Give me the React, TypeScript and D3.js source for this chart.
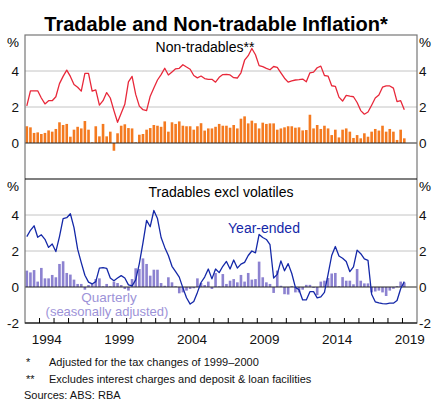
import React from "react";
import * as d3 from "d3";

// quarterly data, 1993Q1 .. 2019Q1
const startYear = 1993;

const nonTradYearEnded = [
  2.06, 2.9, 2.9, 2.9, 2.5, 2.17, 2.35, 2.35, 2.57, 3.3,
  3.7, 4.05, 3.7, 3.25, 3.1, 2.88, 3.87, 3.87, 2.88, 2.95,
  2.1, 2.35, 2.8, 2.5, 1.8, 1.15, 1.65, 2.15, 3.4, 3.7,
  2.7, 2.05, 1.85, 1.8, 2.6, 3.05, 3.5, 3.8, 4.15, 3.78,
  3.95, 4.12, 4.15, 4.35, 4.22, 4.1, 3.75, 3.62, 3.72, 3.58,
  3.54, 3.54, 3.38, 3.65, 3.8, 3.81, 3.78, 3.63, 3.61, 3.9,
  4.6, 4.85, 5.25, 4.9, 4.3, 4.24, 4.15, 4.07, 4.25, 4.2,
  3.9, 3.6, 3.38, 3.45, 3.5, 3.52, 3.55, 3.4, 3.9, 3.94,
  4.18, 4.27, 3.75, 3.72, 3.18, 3.15, 2.55, 2.33, 2.65, 2.6,
  2.57, 2.25, 1.8, 1.6, 1.72, 2.1, 2.5, 2.67, 3.1, 3.17,
  3.17, 3.05, 2.3, 2.35, 1.85,
];

const nonTradQuarterly = [
  0.93, 0.87, 0.56, 0.59, 0.5, 0.56, 0.7, 0.63, 0.78, 1.15,
  1.0, 1.06, 0.35, 0.74, 0.9, 0.81, 1.22, 0.74, 0.04, 0.93,
  0.37, 1.06, 0.37, 0.63, -0.43, 0.54, 0.96, 1.04, 0.83, 0.81,
  0.04, 0.46, 0.5, 0.74, 0.83, 1.0, 0.96, 0.9, 1.2, 0.63,
  1.15, 1.06, 1.2, 0.96, 0.93, 0.93, 0.74, 0.93, 1.1, 0.69,
  0.81, 0.81, 0.9, 1.06, 0.96, 0.96, 0.85, 1.0, 0.81, 1.35,
  1.48, 1.09, 1.24, 1.1, 0.81, 1.13, 1.06, 1.09, 1.09, 0.74,
  0.81, 0.87, 0.93, 0.93, 0.85, 0.87, 0.7, 0.72, 1.57, 0.81,
  1.0, 0.78, 0.96, 0.81, 0.44, 0.74, 0.31, 0.74, 0.81, 0.63,
  0.28, 0.44, 0.26, 0.54, 0.35, 0.63, 0.78, 0.69, 0.96, 0.63,
  0.78, 0.63, 0.17, 0.74, 0.26,
];

const tradYearEnded = [
  2.8, 3.15, 3.4, 2.76, 2.9, 2.65, 2.2, 2.39, 1.97, 2.8,
  3.8, 3.85, 4.07, 3.3, 2.1, 1.35, 0.65, 0.27, 0.17, 0.3,
  1.05, 1.08, 1.04, 0.5, 0.35, 0.5, 0.63, 0.5, 0.12, 0.06,
  0.4, 1.3, 2.45, 3.7, 3.35, 4.25, 3.8, 2.75, 2.2, 1.75,
  1.15, 0.85, 0.55, -0.05, -0.6, -0.95, -0.8, -0.3, 0.25, 0.55,
  1.0, 0.45, 1.0, 0.8, 1.15, 1.42, 1.0, 1.5, 1.05, 1.27,
  1.37, 1.75, 2.0, 1.9, 2.92, 2.75, 2.64, 2.35, 0.5, 0.7,
  1.45, 0.9, 1.3, 0.75, -0.02, -0.15, -0.72, -0.72, -0.26, -0.26,
  -0.6, -0.55, -0.3, 0.7, 1.75, 2.25, 1.72, 1.6, 1.42, 0.85,
  1.12, 2.05, 1.85, 1.56, 1.48, -0.4, -0.82, -0.88, -0.92, -0.94,
  -0.9, -0.9, -0.75, -0.1, 0.3,
];

const tradQuarterly = [
  0.91, 0.81, 0.94, 0.3, 1.06, 0.48, 0.48, 0.67, 0.54, 1.28,
  1.43, 0.78, 0.69, 0.41, 0.17, 0.17, -0.15, 0.11, 0.17, 0.44,
  0.48, 0.04, 0.17, 0.04, 0.3, 0.22, 0.11, -0.11, -0.2, 0.44,
  1.04, 1.0, 1.59, 1.28, 0.63, 0.96, 0.96, 0.22, 0.07, 0.54,
  0.26, 0.04, -0.35, -0.3, -0.2, -0.11, -0.07, 0.48, 0.22, 0.11,
  0.3, -0.11, 0.78, 0.04, 0.72, 0.17, 0.35, 0.44, 0.26, 0.67,
  0.3, 0.78, 0.41, 0.44, 1.41, 0.54, 0.26, 0.17, -0.33, 0.91,
  0.07, -0.4, -0.42, 0.05, -0.3, -0.3, -0.15, 0.12, 0.12, -0.05,
  -0.45, 0.3, 0.35, 0.5, 0.75, 0.78, 0.05, 0.55, 0.35, 0.35,
  0.15, 1.0, 0.35, 0.2, 0.2, -0.3, -0.25, -0.2, -0.3, -0.5,
  -0.2, -0.1, 0.05, 0.3, 0.25,
];

const yearLabels = [1994, 1999, 2004, 2009, 2014, 2019];
const yTicks = [-2, 0, 2, 4];
const footnotes = [
  { mark: "*", text: "Adjusted for the tax changes of 1999\u20132000" },
  { mark: "**", text: "Excludes interest charges and deposit & loan facilities" },
];

const font = "Arial, 'Liberation Sans', Helvetica, sans-serif";
const red = "#e8283a";
const orange = "#f47a20";
const blue = "#1428a8";
const lavender = "#8c82d0";

const qTime = (i: number) => startYear + Math.floor(i / 4) + ((i % 4) + 0.5) / 4;

function Panel({ top, bottom, line, bars, lineColor, barColor, x, left, right, showBottomTick }: any) {
  const y = d3.scaleLinear().domain([-2, 6]).range([bottom, top]);
  const step = x(startYear + 0.25) - x(startYear);
  const barW = step * 0.72;
  const path = d3
    .line<number>()
    .x((_, i) => x(qTime(i)))
    .y(d => y(d))(line);

  return (
    <g>
      {[2, 4].map(t => (
        <line key={t} x1={left} x2={right} y1={y(t)} y2={y(t)} stroke="#c4c4c4" strokeWidth={1} />
      ))}
      {bars.map((v: number, i: number) => (
        <rect
          key={i}
          x={x(qTime(i)) - barW / 2}
          y={Math.min(y(v), y(0))}
          width={barW}
          height={Math.abs(y(v) - y(0))}
          fill={barColor}
        />
      ))}
      <line x1={left} x2={right} y1={y(0)} y2={y(0)} stroke="#222" strokeWidth={1} />
      <path d={path || ""} fill="none" stroke={lineColor} strokeWidth={1.3} strokeLinejoin="round" />
      {yTicks.filter(t => t > -2 || showBottomTick).map(t => (
        <g key={t} fontSize={13.5} fontFamily={font} fill="#111">
          <text x={19} y={y(t)} dy="0.36em" textAnchor="end">{t}</text>
          <text x={419} y={y(t)} dy="0.36em" textAnchor="start">{t}</text>
        </g>
      ))}
      <text x={19} y={top + 7} dy="0.36em" textAnchor="end" fontSize={13.5} fontFamily={font}>%</text>
      <text x={419} y={top + 7} dy="0.36em" textAnchor="start" fontSize={13.5} fontFamily={font}>%</text>
    </g>
  );
}

export default function App() {
  const left = 25;
  const right = 417;
  const top1 = 35;
  const mid = 179;
  const bottom = 323;
  const x = d3.scaleLinear().domain([1993, 2020]).range([left, right]);
  const years = d3.range(1994, 2020);

  return (
    <svg
      width={432}
      height={400}
      style={{ position: "absolute", left: 0, top: 0, background: "#fff" }}
    >
      <text x={216} y={30.5} textAnchor="middle" fontSize={20} fontWeight="bold" fontFamily={font} fill="#000">
        Tradable and Non-tradable Inflation*
      </text>

      <Panel top={top1} bottom={mid} line={nonTradYearEnded} bars={nonTradQuarterly}
        lineColor={red} barColor={orange} x={x} left={left} right={right} showBottomTick={false} />
      <Panel top={mid} bottom={bottom} line={tradYearEnded} bars={tradQuarterly}
        lineColor={blue} barColor={lavender} x={x} left={left} right={right} showBottomTick={true} />

      <rect x={left} y={top1} width={right - left} height={bottom - top1} fill="none" stroke="#777" strokeWidth={1.2} />
      <line x1={left} x2={right} y1={mid} y2={mid} stroke="#000" strokeWidth={1.2} />
      <line x1={left} x2={right} y1={bottom} y2={bottom} stroke="#000" strokeWidth={1.2} />

      {years.map(yr => (
        <line key={yr} x1={x(yr)} x2={x(yr)} y1={bottom} y2={bottom - 5} stroke="#000" strokeWidth={1} />
      ))}
      {yearLabels.map(yr => (
        <text key={yr} x={x(yr + 0.5)} y={344} textAnchor="middle" fontSize={13.5} fontFamily={font} fill="#111">
          {yr}
        </text>
      ))}

      <g fontFamily={font} fontSize={14} textAnchor="middle">
        <text x={205} y={51.5} fill="#000">Non-tradables**</text>
        <text x={221} y={197} fill="#000">Tradables excl volatiles</text>
        <text x={264} y={233} fill={blue}>Year-ended</text>
        <text x={109} y={302} fill="#9d93d8" fontSize={13.5}>Quarterly</text>
        <text x={107} y={316} fill="#9d93d8" fontSize={13}>(seasonally adjusted)</text>
      </g>

      <g fontFamily={font} fontSize={11} fill="#111">
        {footnotes.map((f, i) => (
          <g key={f.mark}>
            <text x={26} y={366 + i * 16.5}>{f.mark}</text>
            <text x={49} y={366 + i * 16.5}>{f.text}</text>
          </g>
        ))}
        <text x={24} y={398.5}>Sources: ABS: RBA</text>
      </g>
    </svg>
  );
}
